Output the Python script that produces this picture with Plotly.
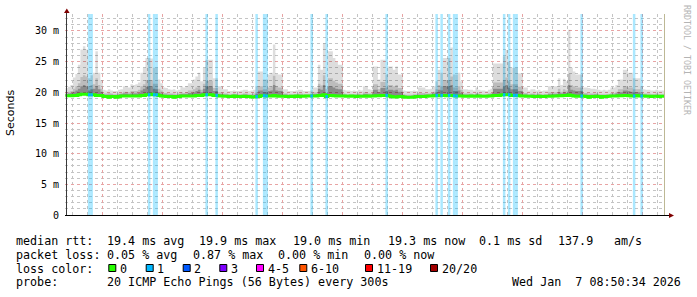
import plotly.graph_objects as go
import pandas as pd

# ---------------- data ----------------
start_time = "2025-12-28 08:50:34"
end_time = "2026-01-07 08:50:34"
first_bin = "2025-12-28 09:00:00"   # hourly consolidated bins

rtt_med = [
    19.45, 19.45, 19.45, 19.5, 19.5, 19.6, 19.7, 19.7, 19.7, 19.6, 19.6, 19.6, 19.5, 19.5, 19.5,
    19.3, 19.3, 19.2, 19.3, 19.3, 19.2, 19.3, 19.4, 19.4, 19.4, 19.4, 19.4, 19.4, 19.4, 19.4, 19.5, 19.5, 19.6, 19.6, 19.7, 19.6, 19.6, 19.5, 19.4,
    19.35, 19.3, 19.3, 19.3, 19.2, 19.3, 19.3, 19.4, 19.4, 19.4, 19.4, 19.4, 19.4, 19.5, 19.5, 19.5, 19.6, 19.6, 19.6, 19.6, 19.5, 19.5, 19.4, 19.4,
    19.35, 19.35, 19.3, 19.3, 19.4, 19.3, 19.3, 19.3, 19.35, 19.3, 19.3, 19.25, 19.25, 19.3, 19.3, 19.45, 19.45, 19.4, 19.4, 19.4, 19.5, 19.4, 19.35, 19.35,
    19.35, 19.3, 19.3, 19.35, 19.3, 19.4, 19.3, 19.35, 19.35, 19.4, 19.4, 19.4, 19.4, 19.4, 19.5, 19.5, 19.6, 19.3, 19.5, 19.5, 19.45, 19.4, 19.4, 19.4,
    19.4, 19.35, 19.35, 19.4, 19.35, 19.3, 19.35, 19.35, 19.35, 19.4, 19.35, 19.4, 19.4, 19.45, 19.45, 19.5, 19.5, 19.5, 19.4, 19.3, 19.25, 19.25, 19.3, 19.3,
    19.25, 19.2, 19.2, 19.2, 19.25, 19.3, 19.3, 19.3, 19.3, 19.35, 19.4, 19.4, 19.45, 19.5, 19.45, 19.5, 19.5, 19.45, 19.5, 19.5, 19.45, 19.4, 19.4, 19.4,
    19.35, 19.35, 19.35, 19.4, 19.35, 19.35, 19.4, 19.35, 19.35, 19.35, 19.4, 19.4, 19.5, 19.5, 19.5, 19.55, 19.6, 19.6, 19.6, 19.5, 19.5, 19.5, 19.45, 19.4,
    19.4, 19.35, 19.35, 19.35, 19.3, 19.3, 19.35, 19.3, 19.3, 19.35, 19.35, 19.35, 19.4, 19.4, 19.45, 19.45, 19.5, 19.5, 19.55, 19.5, 19.4, 19.35, 19.35, 19.4,
    19.35, 19.3, 19.2, 19.3, 19.3, 19.35, 19.3, 19.2, 19.3, 19.3, 19.35, 19.4, 19.4, 19.4, 19.45, 19.45, 19.5, 19.5, 19.45, 19.4, 19.4, 19.5, 19.4, 19.4,
    19.4, 19.35, 19.35, 19.3, 19.35, 19.35, 19.3, 19.35, 19.35,
]

smoke_max = [
    20.7, 20.9, 21.2, 22.4, 23.0, 24.5, 27.0, 27.5, 27.0, 22.3, 22.8, 23.2, 26.7, 23.2, 22.0,
    20.4, 20.3, 20.5, 20.3, 20.2, 20.2, 20.4, 20.5, 21.0, 21.0, 20.8, 21.3, 21.2, 21.3, 21.6, 23.2, 24.0, 25.6, 25.6, 25.5, 24.0, 24.0, 22.1, 21.5,
    20.8, 20.7, 20.5, 20.4, 20.5, 20.3, 20.4, 21.0, 20.8, 21.0, 21.5, 21.5, 22.1, 22.6, 23.2, 21.8, 24.0, 25.3, 25.3, 25.3, 22.3, 22.3, 21.0, 21.0,
    20.5, 20.5, 20.2, 20.2, 20.3, 20.2, 20.2, 20.3, 20.4, 20.4, 20.2, 20.3, 20.4, 21.0, 23.4, 23.4, 22.1, 22.1, 22.9, 23.2, 27.8, 23.0, 22.9, 22.9,
    20.5, 20.5, 20.2, 20.2, 20.2, 20.3, 20.4, 20.4, 20.2, 20.2, 20.2, 20.3, 20.8, 20.8, 24.5, 23.7, 28.0, 20.6, 26.7, 26.7, 25.6, 25.0, 24.5, 24.5,
    20.4, 20.3, 20.3, 20.2, 20.3, 20.2, 20.4, 20.3, 21.0, 21.0, 20.5, 20.4, 24.2, 24.2, 22.1, 25.3, 25.3, 22.9, 24.2, 24.2, 23.7, 24.2, 22.9, 22.9,
    20.3, 20.2, 20.2, 20.2, 20.3, 20.2, 20.8, 20.8, 20.8, 20.5, 20.5, 20.6, 21.0, 21.8, 23.7, 23.2, 25.6, 25.6, 25.6, 27.3, 22.9, 22.9, 23.2, 21.8,
    20.5, 20.5, 20.4, 20.4, 20.3, 20.8, 20.4, 20.3, 20.3, 20.2, 20.4, 20.6, 24.7, 24.7, 24.7, 24.7, 25.9, 26.9, 25.0, 24.0, 24.0, 24.0, 23.1, 23.1,
    20.8, 20.8, 20.3, 20.5, 20.5, 20.3, 20.4, 20.2, 20.3, 20.3, 21.0, 21.0, 21.0, 21.0, 22.3, 21.2, 22.2, 21.8, 30.2, 24.0, 23.4, 22.9, 22.9, 22.9,
    20.8, 20.8, 20.7, 20.6, 20.6, 20.5, 20.4, 20.3, 20.4, 20.3, 20.4, 20.8, 20.8, 21.2, 22.1, 22.1, 23.7, 23.7, 23.2, 23.2, 22.3, 22.3, 22.3, 21.0,
    20.5, 20.4, 20.4, 20.3, 20.3, 20.4, 20.3, 20.3, 20.3,
]

smoke_q3 = [
    20.0, 20.1, 20.2, 20.6, 21.0, 21.5, 22.5, 22.8, 22.6, 21.0, 21.2, 21.3, 22.3, 21.2, 20.6,
    19.8, 19.8, 19.9, 19.8, 19.7, 19.7, 19.8, 19.9, 20.1, 20.1, 20.0, 20.2, 20.2, 20.2, 20.4, 21.0, 21.3, 22.0, 22.0, 22.0, 21.4, 21.4, 20.6, 20.3,
    19.9, 19.9, 19.8, 19.8, 19.8, 19.7, 19.8, 20.0, 19.9, 20.0, 20.3, 20.3, 20.5, 20.8, 21.0, 20.4, 21.4, 21.9, 21.9, 21.9, 20.7, 20.7, 20.0, 20.0,
    19.8, 19.8, 19.7, 19.7, 19.8, 19.7, 19.7, 19.7, 19.8, 19.8, 19.7, 19.7, 19.8, 20.0, 21.0, 21.0, 20.5, 20.5, 20.8, 21.0, 22.7, 21.0, 20.8, 20.8,
    19.8, 19.8, 19.7, 19.7, 19.7, 19.7, 19.8, 19.8, 19.7, 19.7, 19.7, 19.7, 20.0, 20.0, 21.4, 21.1, 22.8, 19.9, 22.3, 22.3, 21.9, 21.6, 21.4, 21.4,
    19.8, 19.7, 19.7, 19.7, 19.7, 19.7, 19.8, 19.7, 20.0, 20.0, 19.8, 19.8, 21.3, 21.3, 20.5, 21.7, 21.7, 20.8, 21.2, 21.2, 21.0, 21.2, 20.7, 20.7,
    19.7, 19.6, 19.6, 19.6, 19.7, 19.7, 19.9, 19.9, 19.9, 19.8, 19.8, 19.9, 20.1, 20.5, 21.2, 21.0, 22.0, 22.0, 22.0, 22.6, 20.8, 20.8, 21.0, 20.4,
    19.8, 19.8, 19.8, 19.8, 19.7, 19.9, 19.8, 19.7, 19.7, 19.7, 19.8, 19.9, 21.6, 21.6, 21.6, 21.6, 22.0, 22.4, 21.8, 21.3, 21.3, 21.3, 20.9, 20.9,
    19.9, 19.9, 19.7, 19.8, 19.8, 19.7, 19.8, 19.7, 19.7, 19.7, 20.0, 20.0, 20.0, 20.0, 20.6, 20.1, 20.5, 20.3, 23.0, 21.2, 21.0, 20.8, 20.8, 20.8,
    19.9, 19.9, 19.8, 19.8, 19.8, 19.8, 19.7, 19.7, 19.7, 19.7, 19.7, 19.9, 19.9, 20.1, 20.5, 20.5, 21.0, 21.0, 20.8, 20.8, 20.5, 20.5, 20.5, 20.0,
    19.8, 19.8, 19.8, 19.7, 19.7, 19.8, 19.7, 19.7, 19.7,
]

smoke_q2 = [
    19.7, 19.8, 19.9, 20.1, 20.3, 20.6, 21.0, 21.2, 21.0, 20.3, 20.5, 20.6, 21.0, 20.5, 20.1,
    19.6, 19.6, 19.6, 19.6, 19.5, 19.5, 19.6, 19.7, 19.8, 19.8, 19.7, 19.8, 19.8, 19.8, 19.9, 20.3, 20.6, 20.9, 21.0, 21.0, 20.6, 20.5, 20.0, 19.8,
    19.6, 19.6, 19.6, 19.6, 19.5, 19.5, 19.6, 19.7, 19.7, 19.7, 19.9, 19.9, 20.0, 20.2, 20.4, 20.0, 20.6, 21.0, 21.0, 21.0, 20.2, 20.2, 19.7, 19.7,
    19.6, 19.6, 19.5, 19.5, 19.6, 19.5, 19.5, 19.5, 19.6, 19.6, 19.5, 19.5, 19.5, 19.7, 20.3, 20.3, 20.0, 20.0, 20.2, 20.3, 21.2, 20.3, 20.2, 20.2,
    19.6, 19.6, 19.5, 19.5, 19.5, 19.5, 19.6, 19.6, 19.5, 19.5, 19.5, 19.5, 19.7, 19.7, 20.6, 20.4, 21.2, 19.7, 21.0, 21.0, 20.8, 20.6, 20.5, 20.5,
    19.6, 19.5, 19.5, 19.5, 19.5, 19.5, 19.6, 19.5, 19.7, 19.7, 19.6, 19.6, 20.4, 20.4, 20.0, 20.7, 20.7, 20.2, 20.4, 20.4, 20.3, 20.4, 20.1, 20.1,
    19.5, 19.4, 19.4, 19.4, 19.5, 19.5, 19.6, 19.6, 19.6, 19.6, 19.6, 19.6, 19.8, 20.0, 20.4, 20.3, 21.0, 21.0, 21.0, 21.2, 20.2, 20.2, 20.3, 19.9,
    19.6, 19.6, 19.6, 19.6, 19.5, 19.7, 19.6, 19.5, 19.5, 19.5, 19.6, 19.7, 20.6, 20.6, 20.6, 20.6, 20.9, 21.2, 20.8, 20.5, 20.5, 20.5, 20.2, 20.2,
    19.6, 19.6, 19.5, 19.6, 19.6, 19.5, 19.6, 19.5, 19.5, 19.5, 19.7, 19.7, 19.7, 19.7, 20.0, 19.8, 20.0, 19.9, 21.2, 20.4, 20.3, 20.2, 20.2, 20.2,
    19.6, 19.6, 19.5, 19.6, 19.6, 19.6, 19.5, 19.4, 19.5, 19.5, 19.5, 19.6, 19.6, 19.8, 20.0, 20.0, 20.3, 20.3, 20.2, 20.1, 20.0, 20.0, 20.0, 19.7,
    19.6, 19.5, 19.5, 19.5, 19.5, 19.5, 19.5, 19.5, 19.5,
]

loss_hours = [
    "2025-12-28 18:00", "2025-12-28 19:00",
    "2025-12-29 18:00", "2025-12-29 20:00", "2025-12-29 21:00",
    "2025-12-30 17:00", "2025-12-30 21:00",
    "2025-12-31 13:00", "2025-12-31 16:00", "2025-12-31 17:00",
    "2026-01-01 11:00", "2026-01-01 17:00",
    "2026-01-02 17:00",
    "2026-01-03 13:00", "2026-01-03 15:00", "2026-01-03 18:00", "2026-01-03 20:00", "2026-01-03 21:00",
    "2026-01-04 16:00", "2026-01-04 18:00", "2026-01-04 20:00", "2026-01-04 21:00",
    "2026-01-05 23:00",
    "2026-01-06 20:00", "2026-01-06 23:00",
]

day_label_dates = ["2025-12-28", "2025-12-29", "2025-12-30", "2025-12-31", "2026-01-01",
                   "2026-01-02", "2026-01-03", "2026-01-04", "2026-01-05", "2026-01-06"]
day_labels = ["28 Dec", "29 Dec", "30 Dec", "31 Dec", "01 Jan",
              "02 Jan", "03 Jan", "04 Jan", "05 Jan", "06 Jan"]
y_tick_vals = [0, 5, 10, 15, 20, 25, 30]
y_tick_text = ["0", "5 m", "10 m", "15 m", "20 m", "25 m", "30 m"]
y_top = 32.77

rtt_title = "median rtt:"
rtt_items = ["19.4 ms avg", "19.9 ms max", "19.0 ms min", "19.3 ms now", "0.1 ms sd", "137.9", "am/s"]
loss_title = "packet loss:"
loss_items = ["0.05 % avg", "0.87 % max", "0.00 % min", "0.00 % now"]
loss_color_title = "loss color:"
loss_labels = ["0", "1", "2", "3", "4-5", "6-10", "11-19", "20/20"]
loss_colors = ["#26ff00", "#00b8ff", "#0059ff", "#7e00ff", "#ff00ff", "#ff5500", "#ff0000", "#a10000"]
probe_title = "probe:"
probe_text = "20 ICMP Echo Pings (56 Bytes) every 300s"
stamp_text = "Wed Jan  7 08:50:34 2026"
watermark = "RRDTOOL / TOBI OETIKER"

# ---------------- layout constants (pixels) ----------------
W, H = 697, 297
PX_L, PX_R, PX_T, PX_B = 65, 665, 14, 215
MONO = "DejaVu Sans Mono"
rtt_item_px = [106.5, 198.5, 292.5, 387.5, 478.5, 557.5, 613.5]
loss_item_px = [106.5, 192.5, 277.5, 364.0]
legend_box_px = [108.3, 145.7, 182.7, 219.3, 256.0, 299.3, 365.0, 430.0]
row_y = [241, 254.8, 268.6, 282.4]


def px(x):
    return (x - PX_L) / (PX_R - PX_L)


def py(y):
    return (PX_B - y) / (PX_B - PX_T)


def nb(s):
    return s.replace(" ", "\u00a0")


n = min(len(rtt_med), len(smoke_max), len(smoke_q3), len(smoke_q2))
t = pd.date_range(first_bin, periods=n, freq="h")
t_ext = list(t) + [t[-1] + pd.Timedelta(hours=1)]


def ext(a):
    a = list(a[:n])
    return a + [a[-1]]


med_e = ext(rtt_med)

fig = go.Figure()

# loss background columns
loss_t = pd.to_datetime(loss_hours) + pd.Timedelta(minutes=30)
fig.add_trace(go.Bar(
    x=loss_t, y=[y_top] * len(loss_t), width=3600 * 1000,
    marker=dict(color="rgba(0,184,255,0.33)", line=dict(width=0)),
    hoverinfo="skip", showlegend=False))

# smoke layers
for arr, col in [(smoke_max, "rgba(0,0,0,0.135)"),
                 (smoke_q3, "rgba(0,0,0,0.15)"),
                 (smoke_q2, "rgba(0,0,0,0.26)")]:
    fig.add_trace(go.Scatter(x=t_ext, y=med_e, mode="lines", line=dict(width=0, shape="hv"),
                             hoverinfo="skip", showlegend=False))
    fig.add_trace(go.Scatter(x=t_ext, y=ext(arr), mode="lines", line=dict(width=0, shape="hv"),
                             fill="tonexty", fillcolor=col, hoverinfo="skip", showlegend=False))

# median line
fig.add_trace(go.Scatter(x=t_ext, y=med_e, mode="lines",
                         line=dict(color=loss_colors[0], width=3, shape="hv"),
                         hoverinfo="skip", showlegend=False))

seg_x, seg_y = [], []
t_index = {ts: i for i, ts in enumerate(t)}
for h in pd.to_datetime(loss_hours):
    i = t_index.get(h)
    if i is None:
        continue
    seg_x += [t_ext[i], t_ext[i + 1], None]
    seg_y += [med_e[i], med_e[i], None]
fig.add_trace(go.Scatter(x=seg_x, y=seg_y, mode="lines",
                         line=dict(color=loss_colors[1], width=3),
                         hoverinfo="skip", showlegend=False))

midnights = pd.date_range("2025-12-29", "2026-01-07", freq="D")
noons = pd.to_datetime(day_label_dates) + pd.Timedelta(hours=12, minutes=30)

shapes = []
shapes.append(dict(type="line", xref="x", yref="y", x0=end_time, x1=end_time, y0=0, y1=y_top,
                   line=dict(color="#bdb894", width=2), layer="above"))
shapes.append(dict(type="line", xref="paper", yref="paper", x0=px(66.5), x1=px(66.5),
                   y0=py(216), y1=py(12), line=dict(color="#3a3a3a", width=1)))
shapes.append(dict(type="line", xref="paper", yref="paper", x0=px(65), x1=px(670),
                   y0=py(215.5), y1=py(215.5), line=dict(color="#000000", width=1)))
shapes.append(dict(type="path", xref="paper", yref="paper",
                   path=f"M {px(66.8)},{py(8.5)} L {px(64)},{py(13)} L {px(69.6)},{py(13)} Z",
                   fillcolor="#7f0000", line=dict(width=0)))
shapes.append(dict(type="path", xref="paper", yref="paper",
                   path=f"M {px(674)},{py(215.5)} L {px(669)},{py(213)} L {px(669)},{py(218)} Z",
                   fillcolor="#7f0000", line=dict(width=0)))
for bx, col in zip(legend_box_px, loss_colors):
    shapes.append(dict(type="rect", xref="paper", yref="paper",
                       x0=px(bx + 0.5), x1=px(bx + 7.5), y0=py(264.5), y1=py(271.5),
                       fillcolor=col, line=dict(color="#000000", width=1)))

annotations = []


def text(x, y, s, size=11.7, anchor="left", color="#000000", angle=0, family=MONO):
    annotations.append(dict(xref="paper", yref="paper", x=px(x), y=py(y), text=nb(s),
                            showarrow=False, xanchor=anchor, yanchor="middle",
                            borderpad=0, borderwidth=0, textangle=angle,
                            font=dict(family=family, size=size, color=color)))


text(16, row_y[0], rtt_title)
for xx, s in zip(rtt_item_px, rtt_items):
    text(xx, row_y[0], s)
text(16, row_y[1], loss_title)
for xx, s in zip(loss_item_px, loss_items):
    text(xx, row_y[1], s)
text(16, row_y[2], loss_color_title)
for bx, lab in zip(legend_box_px, loss_labels):
    text(bx + 11.7, row_y[2], lab)
text(16, row_y[3], probe_title)
text(106.5, row_y[3], probe_text)
text(681, row_y[3], stamp_text, anchor="right")
text(10, 113, "Seconds", size=11, anchor="center", angle=-90, family="DejaVu Sans")
text(687, 60, watermark, size=8.3, anchor="center", angle=90, color="#b4b4b4")

fig.update_layout(
    width=W, height=H,
    margin=dict(l=PX_L, r=W - PX_R, t=PX_T, b=H - PX_B, pad=0),
    paper_bgcolor="#ffffff", plot_bgcolor="#ffffff",
    showlegend=False, barmode="overlay",
    shapes=shapes, annotations=annotations,
    xaxis=dict(type="date", range=[start_time, end_time], tickmode="array", tickvals=midnights,
               showticklabels=False, ticks="", showgrid=True, gridcolor="#e8a4a4",
               griddash="dot", gridwidth=1, zeroline=False, showline=False,
               minor=dict(tickmode="linear", tick0="2025-12-29", dtick=6 * 3600 * 1000,
                          showgrid=True, gridcolor="#c4c4c4", griddash="dot", ticks="")),
    xaxis2=dict(type="date", overlaying="x", anchor="y", side="bottom",
                range=[start_time, end_time], tickmode="array", tickvals=noons, ticktext=day_labels,
                showgrid=False, ticks="", zeroline=False, showline=False,
                tickfont=dict(family=MONO, size=10, color="#000000"), ticklabelstandoff=2),
    yaxis=dict(range=[0, y_top], tickmode="array", tickvals=y_tick_vals, ticktext=y_tick_text,
               showgrid=True, gridcolor="#e8a4a4", griddash="dot", gridwidth=1,
               zeroline=False, showline=False, ticks="",
               tickfont=dict(family=MONO, size=10, color="#000000"), ticklabelstandoff=5,
               minor=dict(tickmode="linear", tick0=0, dtick=1, showgrid=True,
                          gridcolor="#c4c4c4", griddash="dot", ticks="")),
)

fig.write_html("out.html", config={"displayModeBar": False})
